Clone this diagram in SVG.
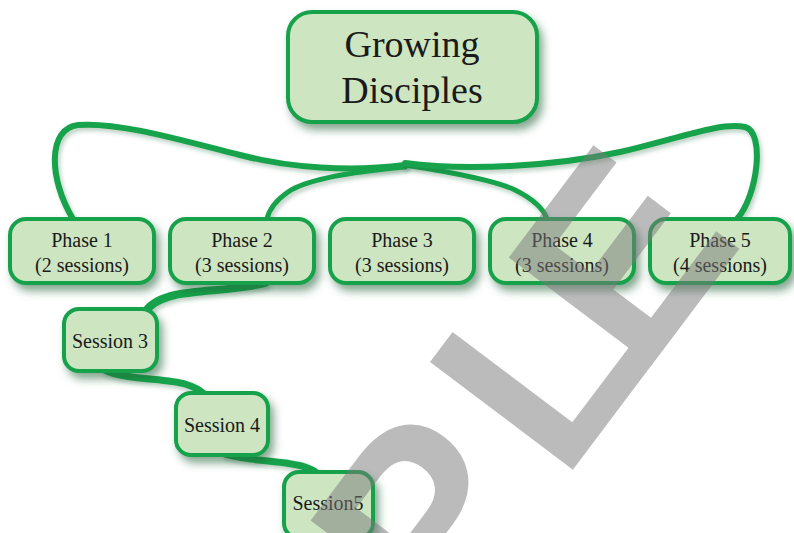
<svg xmlns="http://www.w3.org/2000/svg" width="794" height="533" viewBox="0 0 794 533">
<defs>
<filter id="sh" x="-20%" y="-20%" width="150%" height="160%">
<feDropShadow dx="4" dy="6" stdDeviation="4" flood-color="#1d5e35" flood-opacity="0.55"/>
</filter>
<filter id="rs" x="-10%" y="-10%" width="130%" height="140%">
<feDropShadow dx="2" dy="3" stdDeviation="2" flood-color="#1d5e35" flood-opacity="0.3"/>
</filter>
</defs>
<style>
.box{fill:#cde5c1;stroke:#17a14b;stroke-width:4;filter:url(#sh)}
.t{font-family:"Liberation Serif",serif;fill:#1a1a1a;text-anchor:middle}
.big{font-size:38px}
.sm{font-size:20px}
.rib{fill:none;stroke:#17a34b;stroke-linecap:round;filter:url(#rs)}
.wm{font-family:"Liberation Sans",Arial,sans-serif;font-weight:bold;font-size:260px;fill:#7a7a7a;opacity:0.5}
</style>
<rect width="794" height="533" fill="#ffffff"/>
<g id="connectors">
<path class="rib" stroke-width="5" d="M405,122 V219"/>
<path class="rib" stroke-width="6" d="M405,165 C350,172 290,168 240,155 C180,140 120,122 78,125 C48,128 48,178 73,219"/>
<path class="rib" stroke-width="5" d="M405,167 C350,172 305,180 288,192 C275,201 269,210 267,219"/>
<path class="rib" stroke-width="5" d="M405,165 C450,172 495,180 515,190 C535,200 544,210 547,219"/>
<path class="rib" stroke-width="6" d="M405,163 C470,172 560,165 620,152 C680,138 720,122 745,127 C765,132 758,195 737,219"/>
<path class="rib" stroke-width="8" d="M265,283 C240,290 200,290 175,295 C158,299 150,305 146,311"/>
<path class="rib" stroke-width="7" d="M105,370 C125,380 165,378 185,384 C195,387 200,390 204,394"/>
<path class="rib" stroke-width="7" d="M225,454 C250,462 285,460 305,467 C311,469 315,471 318,474"/>
</g>
<g id="growing-disciples">
<rect class="box" x="288" y="12" width="249" height="110" rx="24"/>
<text class="t big" x="412" y="57">Growing</text>
<text class="t big" x="412" y="103">Disciples</text>
</g>
<g id="phase1">
<rect class="box" x="10" y="219" width="144" height="64" rx="16"/>
<text class="t sm" x="82" y="247">Phase 1</text>
<text class="t sm" x="82" y="272">(2 sessions)</text>
</g>
<g id="phase2">
<rect class="box" x="170" y="219" width="144" height="64" rx="16"/>
<text class="t sm" x="242" y="247">Phase 2</text>
<text class="t sm" x="242" y="272">(3 sessions)</text>
</g>
<g id="phase3">
<rect class="box" x="330" y="219" width="144" height="64" rx="16"/>
<text class="t sm" x="402" y="247">Phase 3</text>
<text class="t sm" x="402" y="272">(3 sessions)</text>
</g>
<g id="phase4">
<rect class="box" x="490" y="219" width="144" height="64" rx="16"/>
<text class="t sm" x="562" y="247">Phase 4</text>
<text class="t sm" x="562" y="272">(3 sessions)</text>
</g>
<g id="phase5">
<rect class="box" x="650" y="219" width="140" height="64" rx="16"/>
<text class="t sm" x="720" y="247">Phase 5</text>
<text class="t sm" x="720" y="272">(4 sessions)</text>
</g>
<g id="session3">
<rect class="box" x="64" y="309" width="93" height="62" rx="15"/>
<text class="t sm" x="110" y="348">Session 3</text>
</g>
<g id="session4">
<rect class="box" x="176" y="393" width="92" height="62" rx="15"/>
<text class="t sm" x="222" y="432">Session 4</text>
</g>
<g id="session5">
<rect class="box" x="284" y="472" width="89" height="66" rx="15"/>
<text class="t sm" x="328" y="510">Session5</text>
</g>
<g id="watermark">
<text class="wm" x="443" y="642" transform="rotate(-53 443 642)">P<tspan dx="25">L</tspan><tspan dx="-28">E</tspan></text>
</g>
</svg>
